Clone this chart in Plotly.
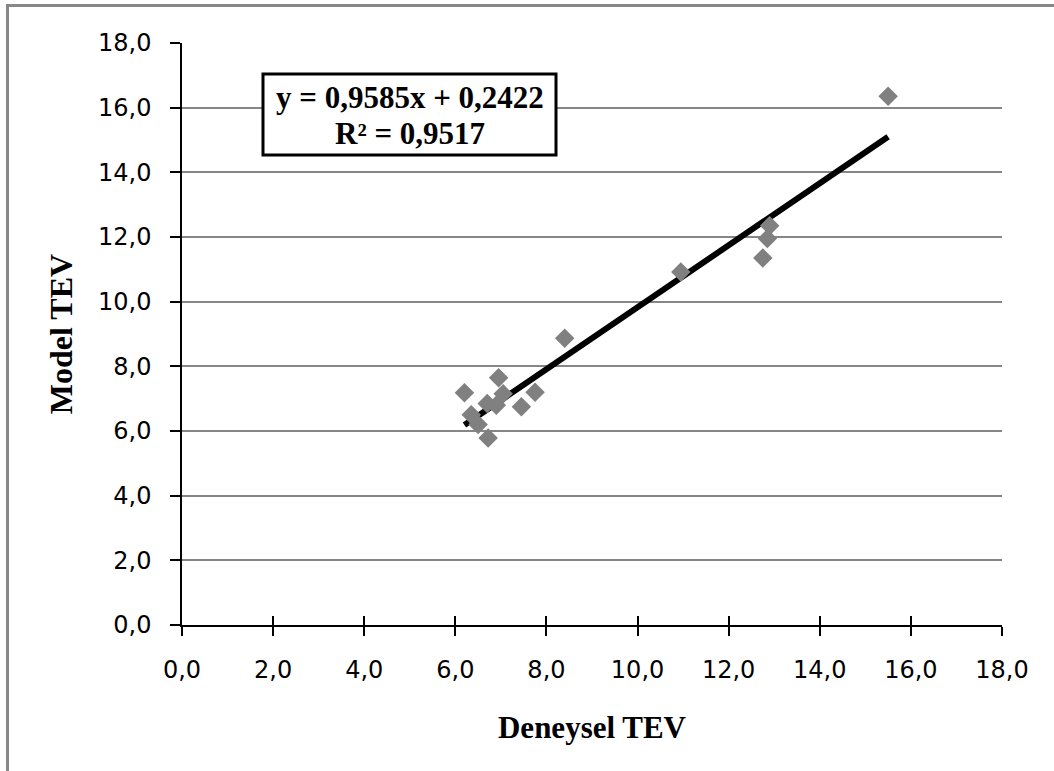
import plotly.graph_objects as go

# Data
deneysel_tev = [6.2, 6.35, 6.5, 6.7, 6.72, 6.9, 6.95, 7.05, 7.45, 7.75, 8.4, 10.95, 12.75, 12.85, 12.9, 15.5]
model_tev = [7.18, 6.5, 6.2, 6.85, 5.78, 6.8, 7.65, 7.15, 6.75, 7.2, 8.87, 10.92, 11.35, 11.95, 12.35, 16.35]
slope = 0.9585
intercept = 0.2422
r2 = 0.9517
tick_vals = [0, 2, 4, 6, 8, 10, 12, 14, 16, 18]
tick_text = ["0,0", "2,0", "4,0", "6,0", "8,0", "10,0", "12,0", "14,0", "16,0", "18,0"]

W, H = 1054, 771
L, R, T, B = 182, 52, 43, 146
pw, ph = W - L - R, H - T - B


def px(x):
    return (x - L) / pw


def py(y):
    return (H - B - y) / ph


xmin, xmax = min(deneysel_tev), max(deneysel_tev)
trend_x = [xmin, xmax]
trend_y = [slope * v + intercept for v in trend_x]

fig = go.Figure()
fig.add_trace(go.Scatter(
    x=trend_x, y=trend_y, mode="lines",
    line=dict(color="black", width=6), showlegend=False, hoverinfo="skip"))
fig.add_trace(go.Scatter(
    x=deneysel_tev, y=model_tev, mode="markers",
    marker=dict(symbol="diamond", size=15, color="#808080", line=dict(width=0)),
    showlegend=False))
# invisible trace for second x axis (inside tick marks)
fig.add_trace(go.Scatter(x=[0], y=[0], xaxis="x2", mode="markers",
                         marker=dict(opacity=0), showlegend=False, hoverinfo="skip"))

fig.update_layout(
    width=W, height=H,
    margin=dict(l=L, r=R, t=T, b=B),
    paper_bgcolor="white", plot_bgcolor="white",
    xaxis=dict(
        range=[0, 18], tickvals=tick_vals, ticktext=tick_text,
        showgrid=False, zeroline=False,
        showline=True, linecolor="black", linewidth=1.5,
        ticks="outside", ticklen=9, tickcolor="black", tickwidth=1.5,
        tickfont=dict(family="DejaVu Sans", size=24, color="black"),
        ticklabelstandoff=13,
        title=dict(text="<b>Deneysel TEV</b>", standoff=34,
                   font=dict(family="Liberation Serif", size=31, color="black")),
    ),
    xaxis2=dict(
        range=[0, 18], tickvals=tick_vals, overlaying="x", anchor="y", side="bottom",
        showgrid=False, zeroline=False, showline=False, showticklabels=False,
        ticks="inside", ticklen=9, tickcolor="black", tickwidth=1.5,
    ),
    yaxis=dict(
        range=[0, 18], tickvals=tick_vals, ticktext=tick_text,
        showgrid=True, gridcolor="#868686", gridwidth=1.5,
        zeroline=False,
        showline=True, linecolor="black", linewidth=1.5,
        ticks="outside", ticklen=10, tickcolor="black", tickwidth=1.5,
        tickfont=dict(family="DejaVu Sans", size=24, color="black"),
        ticklabelstandoff=14,
        title=dict(text="<b>Model TEV</b>", standoff=16,
                   font=dict(family="Liberation Serif", size=32, color="black")),
    ),
    shapes=[
        # outer frame (left and top)
        dict(type="line", xref="paper", yref="paper",
             x0=px(7.5), x1=px(7.5), y0=py(771), y1=py(4.5),
             line=dict(color="#888888", width=3)),
        dict(type="line", xref="paper", yref="paper",
             x0=px(6), x1=px(1054), y0=py(5.5), y1=py(5.5),
             line=dict(color="#888888", width=3)),
        # equation box
        dict(type="rect", xref="paper", yref="paper",
             x0=px(263), x1=px(556), y0=py(155), y1=py(74),
             line=dict(color="black", width=3), fillcolor="white", layer="above"),
    ],
    annotations=[
        dict(xref="paper", yref="paper", x=px(409.5), y=py(97),
             text=f"<b>y = {slope:.4f}x + {intercept:.4f}</b>".replace(".", ","),
             showarrow=False, xanchor="center", yanchor="middle",
             font=dict(family="Liberation Serif", size=31, color="black")),
        dict(xref="paper", yref="paper", x=px(409.5), y=py(133),
             text=f"<b>R² = {r2:.4f}</b>".replace(".", ","),
             showarrow=False, xanchor="center", yanchor="middle",
             font=dict(family="Liberation Serif", size=31, color="black")),
    ],
)

fig.write_html("out.html")
